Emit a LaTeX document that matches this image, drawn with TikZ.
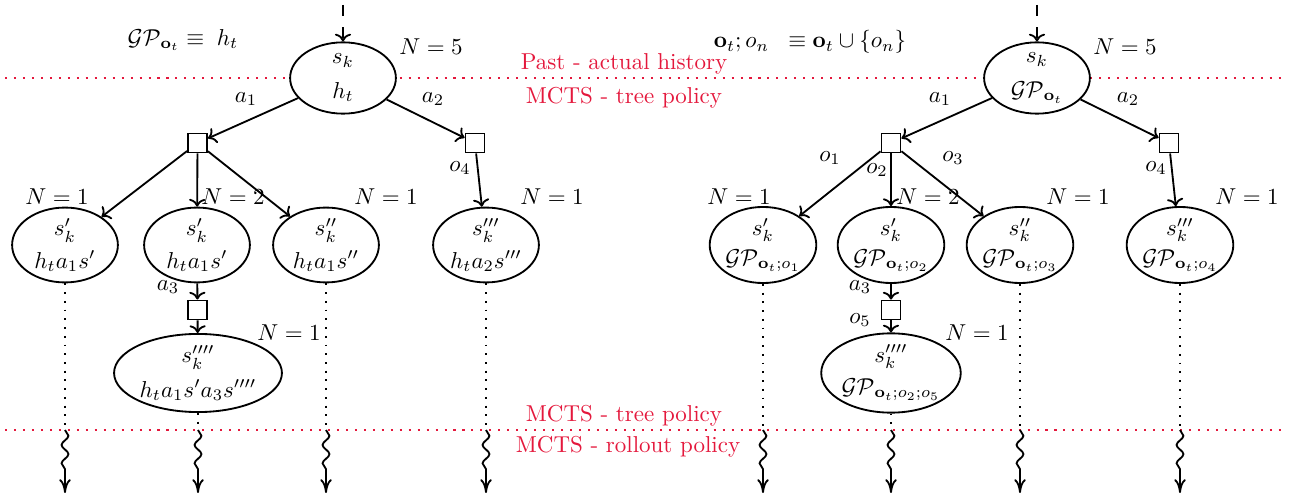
\documentclass[tikz,border=0pt]{standalone}
\usepackage{amsmath,amssymb}
\usetikzlibrary{shapes.geometric,decorations.pathmorphing,arrows.meta}
\definecolor{phase}{RGB}{228,24,60}
\tikzset{
  st/.style={ellipse,draw,thick,fill=white,align=center,inner sep=0pt,
             minimum width=46pt,minimum height=32pt},
  act/.style={rectangle,draw,thick,fill=white,minimum size=8.3pt,inner sep=0pt},
  edge/.style={thick,->},
  sep/.style={phase,line width=0.9pt,dash pattern=on 0.9pt off 3pt},
  trail/.style={thick,dash pattern=on 0.8pt off 3pt},
  roll/.style={thick,decorate,decoration={snake,amplitude=1.5pt,segment length=8pt,post length=7pt},
               -{To[length=6pt,width=5pt]}},
  phasetxt/.style={text=phase,font=\normalsize},
  lbl/.style={inner sep=1pt}
}
\begin{document}
\begin{tikzpicture}[x=0.4348pt,y=-0.4348pt]
\useasboundingbox (0,0) rectangle (1293,498);

% phase boundaries
\draw[sep] (5,78) -- (1282,78);
\draw[sep] (5,430) -- (1282,430);
\node[phasetxt] (past) at (624,64) {Past - actual history};
\node[phasetxt] (tree1) at (624,98) {MCTS - tree policy};
\node[phasetxt] (tree2) at (624,416) {MCTS - tree policy};
\node[phasetxt] (roll) at (628,447) {MCTS - rollout policy};

% ---------------- left tree: histories ----------------
\node (eqL) at (183,40) {$\mathcal{GP}_{\mathbf{o}_t} \equiv\; h_t$};
\node[st,minimum width=46pt,minimum height=31pt] (rL) at (343,78) {$s_k$\\[3pt]$h_t$};
\coordinate (topL) at (343,5);
\draw[thick,dash pattern=on 4.8pt off 4.8pt,->] (topL) -- (rL);
\node[lbl] at (431,47) {$N=5$};

\node[act] (bL1) at (197.5,143) {};
\node[act] (bL2) at (475,143) {};
\draw[edge] (rL) -- (bL1);
\draw[edge] (rL) -- (bL2);
\node[lbl] at (246,99) {$a_1$};
\node[lbl] at (433,99) {$a_2$};

\node[st] (cL1) at (65,245) {$s_k'$\\[2pt]$h_ta_1s'$};
\node[st] (cL2) at (197,245) {$s_k'$\\[2pt]$h_ta_1s'$};
\node[st] (cL3) at (326,245) {$s_k''$\\[2pt]$h_ta_1s''$};
\node[st] (cL4) at (486,245) {$s_k'''$\\[2pt]$h_ta_2s'''$};
\draw[edge] (bL1) -- (cL1);
\draw[edge] (bL1) -- (cL2);
\draw[edge] (bL1) -- (cL3);
\draw[edge] (bL2) -- (cL4);
\node[lbl] at (460,168) {$o_4$};
\node[lbl] at (57,197) {$N=1$};
\node[lbl] at (233,197) {$N=2$};
\node[lbl] at (386,197) {$N=1$};
\node[lbl] at (552,197) {$N=1$};

\node[act] (bL3) at (197.5,310) {};
\node[st,minimum width=73pt,minimum height=31pt] (cL5) at (198,373) {$s_k''''$\\[3pt]$h_ta_1s'a_3s''''$};
\draw[edge] (cL2) -- (bL3);
\draw[edge] (bL3) -- (cL5);
\node[lbl] at (168,287) {$a_3$};
\node[lbl] at (289,333) {$N=1$};

% ---------------- right tree: observation sets ----------------
\node (eqR) at (810,42) {$\mathbf{o}_t;o_n\;\; \equiv \mathbf{o}_t\cup\{o_n\}$};
\node[st,minimum width=46pt,minimum height=31pt] (rR) at (1037,78) {$s_k$\\[3pt]$\mathcal{GP}_{\mathbf{o}_t}$};
\coordinate (topR) at (1037,5);
\draw[thick,dash pattern=on 4.8pt off 4.8pt,->] (topR) -- (rR);
\node[lbl] at (1125,47) {$N=5$};

\node[act] (bR1) at (891,143) {};
\node[act] (bR2) at (1169,143) {};
\draw[edge] (rR) -- (bR1);
\draw[edge] (rR) -- (bR2);
\node[lbl] at (940,99) {$a_1$};
\node[lbl] at (1128,99) {$a_2$};

\node[st] (cR1) at (763,245) {$s_k'$\\[1pt]$\mathcal{GP}_{\mathbf{o}_t;o_1}$};
\node[st] (cR2) at (891,245) {$s_k'$\\[1pt]$\mathcal{GP}_{\mathbf{o}_t;o_2}$};
\node[st] (cR3) at (1020,245) {$s_k''$\\[1pt]$\mathcal{GP}_{\mathbf{o}_t;o_3}$};
\node[st] (cR4) at (1180,245) {$s_k'''$\\[1pt]$\mathcal{GP}_{\mathbf{o}_t;o_4}$};
\draw[edge] (bR1) -- (cR1);
\draw[edge] (bR1) -- (cR2);
\draw[edge] (bR1) -- (cR3);
\draw[edge] (bR2) -- (cR4);
\node[lbl] at (830,158) {$o_1$};
\node[lbl] at (877,170) {$o_2$};
\node[lbl] at (953,158) {$o_3$};
\node[lbl] at (1156,168) {$o_4$};
\node[lbl] at (739,197) {$N=1$};
\node[lbl] at (928,197) {$N=2$};
\node[lbl] at (1078,197) {$N=1$};
\node[lbl] at (1247,197) {$N=1$};

\node[act] (bR3) at (891,310) {};
\node[st,minimum width=58pt,minimum height=31pt] (cR5) at (891,373) {$s_k''''$\\[2pt]$\mathcal{GP}_{\mathbf{o}_t;o_2;o_5}$};
\draw[edge] (cR2) -- (bR3);
\draw[edge] (bR3) -- (cR5);
\node[lbl] at (860,287) {$a_3$};
\node[lbl] at (860,320) {$o_5$};
\node[lbl] at (977,333) {$N=1$};

% ---------------- tree-policy trails and rollouts ----------------
\foreach \n/\x in {cL1/65,cL5/198,cL3/326,cL4/486,cR1/763,cR5/891,cR3/1020,cR4/1180}{
  \coordinate (\n-cut) at (\x,430);
  \coordinate (\n-end) at (\x,493);
  \draw[trail] (\n.south) -- (\n-cut);
  \draw[roll] (\n-cut) -- (\n-end);
}
\end{tikzpicture}
\end{document}
